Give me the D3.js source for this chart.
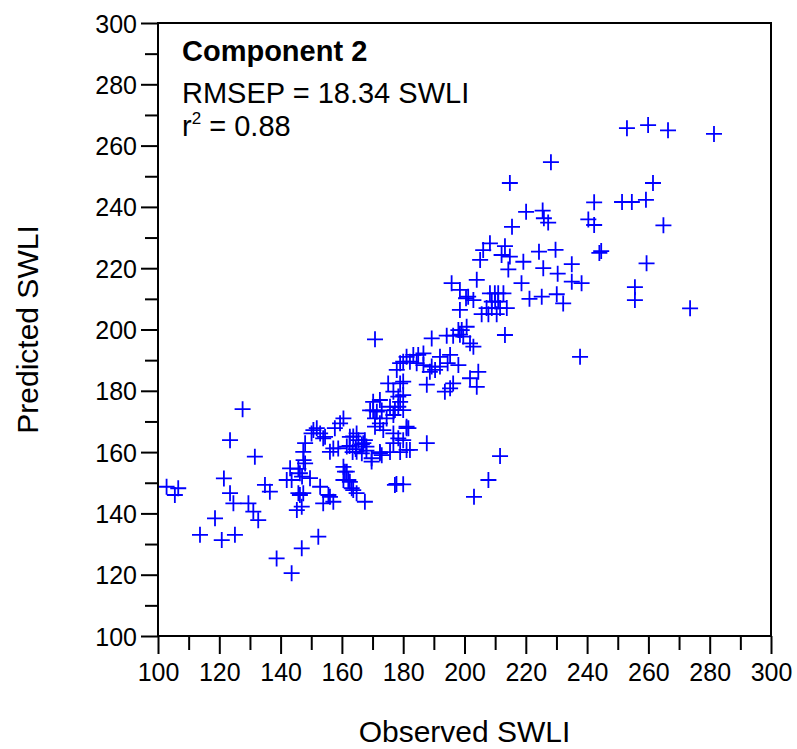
<!DOCTYPE html>
<html>
<head>
<meta charset="utf-8">
<script src="https://cdn.jsdelivr.net/npm/d3@7"></script>
<style>
html,body{margin:0;padding:0;background:#fff;}
svg{display:block;font-family:Arial,"Liberation Sans",sans-serif;}
</style>
</head>
<body>
<svg id="chart" width="797" height="749"></svg>
<script>
// Observed / predicted SWLI pairs
const observed = [
253.0,259.9,266.4,281.4,228.2,214.8,261.5,251.4,254.6,259.2,242.3,240.4,242.3,264.9,220.1,225.5,225.9,227.3,244.0,244.6,
224.3,229.7,235.0,225.7,230.4,235.0,238.2,259.4,255.6,255.6,273.6,237.7,232.2,230.1,225.2,221.2,218.6,219.2,215.5,208.3,
213.2,206.1,205.1,212.1,214.8,214.3,204.0,195.8,198.5,201.2,202.9,208.3,209.9,211.0,212.7,208.9,210.0,211.0,207.2,208.9,
211.6,213.8,205.6,207.8,210.5,198.5,213.2,200.7,198.0,199.1,194.2,196.3,198.5,199.6,189.3,201.8,202.9,170.8,195.3,192.0,
198.0,204.5,201.8,204.0,196.3,195.3,193.6,187.7,180.0,180.0,180.0,181.1,180.0,182.2,187.7,211.6,207.8,203.1,180.0,179.0,
180.0,181.1,183.3,184.9,186.6,182.2,184.4,186.6,189.3,190.4,192.0,188.7,177.9,175.1,179.0,176.8,178.4,179.0,178.4,170.2,
172.4,169.2,170.2,171.4,173.0,175.7,170.8,174.6,176.8,172.4,170.8,173.5,181.1,176.8,178.4,176.8,181.1,179.0,175.7,172.4,
167.5,168.0,160.5,159.4,157.7,151.8,150.1,153.9,148.0,147.4,156.1,161.6,163.7,164.8,162.5,164.5,166.5,168.0,163.5,169.7,
173.0,143.1,142.0,148.0,146.3,149.6,152.9,147.4,146.3,161.0,160.5,162.1,163.2,164.8,167.5,156.1,157.2,153.9,145.3,146.9,
152.3,177.3,177.8,146.9,143.6,127.6,123.5,131.6,121.5,102.8,106.6,105.5,123.5,124.6,129.5,131.1,132.7,118.6,113.7,120.8,
125.1,134.9,136.5,143.6,138.7,147.5,145.8,147.0,145.8,181.7,150.7,152.9,154.5,162.6,165.4,167.0,157.2,158.8,164.8,166.5,
160.5,161.6,162.6,163.7,155.6,169.7,172.4,200.5,194.5,177.3
];
const predicted = [
265.7,266.7,265.0,263.8,254.6,247.8,247.8,241.6,241.6,242.3,241.5,235.9,234.1,234.0,238.4,238.8,236.3,234.9,225.0,225.6,
225.4,226.0,221.3,220.0,218.2,215.6,215.1,221.6,213.8,209.6,206.9,191.1,208.5,211.5,210.7,210.0,215.1,222.1,233.5,228.1,
227.2,225.9,222.7,224.3,223.8,219.6,216.2,215.1,212.9,210.7,209.6,211.8,211.8,211.8,211.8,209.1,209.1,209.1,207.0,207.0,
207.0,207.0,205.0,205.0,205.0,206.4,198.2,200.9,199.8,199.8,198.0,198.0,198.3,197.7,197.1,195.5,194.4,196.8,191.7,191.1,
188.4,186.2,184.1,181.3,182.4,180.8,179.7,182.0,183.0,178.6,173.7,168.3,163.9,160.7,162.9,158.7,150.9,145.4,149.5,189.0,
189.5,191.1,191.7,191.7,192.2,189.5,189.0,188.4,187.9,186.8,187.9,186.2,186.8,182.4,182.4,179.7,178.1,176.4,174.8,176.4,
177.0,173.6,173.6,173.2,173.6,174.8,171.0,171.0,172.1,169.4,168.3,167.2,167.8,166.1,164.5,162.9,160.7,160.0,160.0,160.0,
163.9,161.8,171.0,169.4,167.8,167.8,166.1,164.5,162.9,160.1,160.1,161.8,165.1,166.1,162.0,161.0,162.5,160.5,160.0,156.9,
159.0,154.7,150.9,156.3,153.1,151.5,148.7,146.6,146.0,153.6,150.9,150.9,148.2,146.6,143.8,145.4,143.8,143.3,141.1,142.2,
132.4,149.3,149.6,128.6,120.5,174.0,163.9,158.5,151.4,148.7,148.2,146.0,146.6,143.3,143.3,140.6,137.8,138.4,133.0,131.3,
133.0,149.3,147.1,150.9,125.3,157.4,154.5,152.0,146.6,167.8,167.2,166.1,165.0,165.0,163.9,162.9,161.2,161.2,160.1,159.6,
155.2,153.6,150.3,147.6,146.0,158.0,159.6,210.2,189.0,173.7
];
const xTicks = [100,120,140,160,180,200,220,240,260,280,300];
const yTicks = [100,120,140,160,180,200,220,240,260,280,300];
const minorTicks = [110,130,150,170,190,210,230,250,270,290];
const titleLines = ["Component 2", "RMSEP = 18.34 SWLI"];
const r2Value = "0.88";
const xLabel = "Observed SWLI";
const yLabel = "Predicted SWLI";

const svg = d3.select("#chart");
const L = 158, R = 771, T = 23, B = 636;
const x = d3.scaleLinear().domain([100,300]).range([L,R]);
const y = d3.scaleLinear().domain([100,300]).range([B,T]);

const data = observed.map((o,i)=>({o, p: predicted[i]}));

// points as plus signs
const arm = 8;
const g = svg.append("g").attr("stroke","#0000ff").attr("stroke-width",1.8).attr("fill","none");
g.selectAll("path").data(data).enter().append("path")
  .attr("d", d => {
    const cx = x(d.o), cy = y(d.p);
    return `M${cx-arm},${cy}H${cx+arm}M${cx},${cy-arm}V${cy+arm}`;
  });

// frame
svg.append("rect").attr("x",L).attr("y",T).attr("width",R-L).attr("height",B-T)
  .attr("fill","none").attr("stroke","#000").attr("stroke-width",2);

// axes
const xAxis = d3.axisBottom(x).tickValues(xTicks).tickSize(18).tickSizeOuter(0).tickPadding(9).tickFormat(d3.format("d"));
const yAxis = d3.axisLeft(y).tickValues(yTicks).tickSize(17).tickSizeOuter(0).tickPadding(4).tickFormat(d3.format("d"));
const gx = svg.append("g").attr("transform",`translate(0,${B})`).call(xAxis);
const gy = svg.append("g").attr("transform",`translate(${L},0)`).call(yAxis);
[gx,gy].forEach(a=>{
  a.select(".domain").remove();
  a.selectAll(".tick line").attr("stroke","#000").attr("stroke-width",2);
  a.selectAll(".tick text").attr("fill","#000").style("font-size","25px").style("font-family","Arial, 'Liberation Sans', sans-serif");
});
gx.selectAll(".tick text").attr("dy","0.71em");
gy.selectAll(".tick text").attr("dy","0.36em");

// minor ticks
const gxm = svg.append("g").attr("transform",`translate(0,${B})`)
  .call(d3.axisBottom(x).tickValues(minorTicks).tickSize(14).tickSizeOuter(0).tickFormat(""));
const gym = svg.append("g").attr("transform",`translate(${L},0)`)
  .call(d3.axisLeft(y).tickValues(minorTicks).tickSize(13).tickSizeOuter(0).tickFormat(""));
[gxm,gym].forEach(a=>{
  a.select(".domain").remove();
  a.selectAll(".tick line").attr("stroke","#000").attr("stroke-width",2);
});

// annotations
svg.append("text").attr("x",182).attr("y",61).style("font-size","29px").style("font-weight","bold")
  .attr("fill","#000").text(titleLines[0]);
svg.append("text").attr("x",182).attr("y",103).style("font-size","29px")
  .attr("fill","#000").text(titleLines[1]);
const r2 = svg.append("text").attr("x",182).attr("y",136).style("font-size","29px").attr("fill","#000");
r2.append("tspan").text("r");
r2.append("tspan").attr("dy","-12").style("font-size","17px").text("2");
r2.append("tspan").attr("dy","12").text(" = " + r2Value);

// axis titles
svg.append("text").attr("x",(L+R)/2).attr("y",742).attr("text-anchor","middle")
  .style("font-size","30px").attr("fill","#000").text(xLabel);
svg.append("text").attr("transform",`translate(38,${(T+B)/2}) rotate(-90)`).attr("text-anchor","middle")
  .style("font-size","30px").attr("fill","#000").text(yLabel);
</script>
</body>
</html>
